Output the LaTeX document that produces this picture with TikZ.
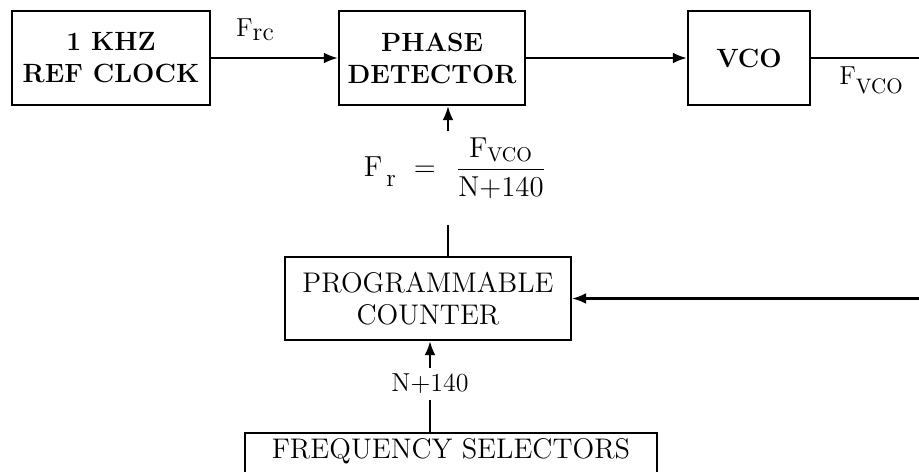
\documentclass[tikz,border=0pt]{standalone}
\usepackage{tikz}
\usetikzlibrary{arrows.meta}

\begin{document}
\begin{tikzpicture}
[
	x=0.5pt, y=-0.5pt,
	topBox/.style={draw, line width=1.2pt, align=center, minimum height=47pt, inner sep=0pt, font=\fontsize{13.2}{16}\selectfont\bfseries},
	lowBox/.style={draw, line width=1.2pt, align=center, font=\fontsize{14.2}{16}\selectfont},
	sigLine/.style={line width=1.1pt},
	sigArrow/.style={line width=1.1pt, -{Latex[length=7pt,width=5.5pt]}},
	sigLabel/.style={inner sep=3pt, font=\fontsize{13}{15}\selectfont}
]

% Fix the frame
\useasboundingbox (0,0) rectangle (919,471);
\clip (0,0) rectangle (919,471);

% Draw top row
\node[topBox, minimum width=99pt] (refclock) at (111,58) {1 KHZ\\REF CLOCK};
\node[topBox, minimum width=93pt] (phasedet) at (432,58) {PHASE\\DETECTOR};
\node[topBox, minimum width=61pt] (vco) at (749,58) {VCO};

% Draw counter and selectors
\node[lowBox, minimum width=143pt, minimum height=41.5pt] (progcount) at (428,298.5) {PROGRAMMABLE\\COUNTER};
\node[lowBox, minimum width=206pt, anchor=north, text height=9.5pt, text depth=40pt, inner ysep=3pt] (freqsel) at (451,432) {FREQUENCY SELECTORS};

% Tap points
\coordinate (fbtap) at (448,0);
\coordinate (rightedge) at (960,0);

% Draw labels
\node[sigLabel] (frc) at (255,30) {F\raisebox{-2pt}{rc}};
\node[sigLabel] (fvco) at (871,80) {F\raisebox{-4.5pt}{\fontsize{10.5}{12}\selectfont VCO}};
\node[sigLabel, font=\fontsize{14.5}{16}\selectfont] (ratio) at (455,168) {F\hspace{2pt}\raisebox{-5pt}{\fontsize{12.5}{14}\selectfont r}\hspace{9pt}$=$\hspace{10pt}$\displaystyle\frac{\mathrm{F_{VCO}}}{\mathrm{N{+}140}}$};
\node[sigLabel] (count) at (430,384) {N+140};

% Draw forward path
\draw[sigArrow] (refclock) -- (phasedet);
\draw[sigArrow] (phasedet) -- (vco);

% Draw feedback path
\draw[sigArrow] (vco.east) -- (vco.east -| rightedge) |- (progcount.east);
\draw[sigLine] (progcount.north -| fbtap) -- ([yshift=-10pt]ratio.south -| fbtap);
\draw[sigArrow] (ratio.north -| fbtap) -- (phasedet.south -| fbtap);

% Draw program input
\draw[sigLine] (freqsel.north -| count) -- (count.south);
\draw[sigArrow] (count.north) -- (progcount.south -| count);

\end{tikzpicture}
\end{document}
